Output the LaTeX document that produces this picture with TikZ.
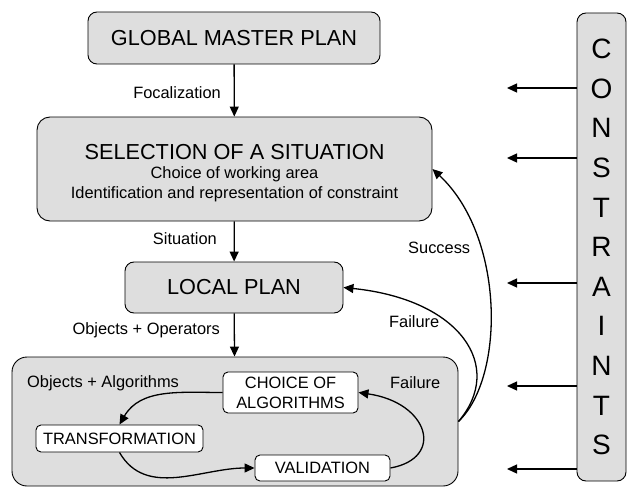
\documentclass[tikz,border=0pt]{standalone}
\usepackage{fontspec}
\setmainfont{Liberation Sans}
\usepackage{tikz}
\usetikzlibrary{arrows.meta}
\definecolor{boxgray}{RGB}{222,222,222}

\tikzset{
  bigbox/.style={draw, fill=boxgray, rounded corners=9pt, line width=0.9pt, inner sep=0pt, align=center, font=\fontsize{21.7}{26}\selectfont},
  smallbox/.style={draw, fill=white, rounded corners=5pt, line width=0.9pt, inner sep=0pt, align=center, font=\fontsize{16.4}{20}\selectfont},
  lbl/.style={inner sep=0pt, font=\fontsize{16.4}{20}\selectfont},
  arr/.style={-{Triangle[length=10pt,width=9pt]}, line width=1.3pt},
}

\begin{document}
\begin{tikzpicture}[x=1pt, y=-1pt]
    \useasboundingbox (0,0) rectangle (627,487);
    % main chain
    \node[bigbox, minimum width=292, minimum height=52] (global) at (234,38) {GLOBAL MASTER PLAN};
    \node[bigbox, rounded corners=13pt, minimum width=395, minimum height=104,
          font=\fontsize{21.7}{19.5}\selectfont] (select) at (234.5,169)
        {\rule{0pt}{23pt}SELECTION OF A SITUATION\\
         \fontsize{16.4}{19.5}\selectfont Choice of working area\\
         \fontsize{16.4}{19.5}\selectfont Identification and representation of constraint};
    \node[bigbox, minimum width=218, minimum height=51] (local) at (234,287.5) {LOCAL PLAN};
    \draw[arr] (global) -- (select);
    \draw[arr] (select) -- (local);
    \node[lbl, anchor=east] (focal) at (221,93) {Focalization};
    \node[lbl, anchor=east] (situ) at (217,239) {Situation};
    \node[lbl, anchor=east] (objop) at (220,330) {Objects + Operators};
    % algorithms block
    \node[bigbox, rounded corners=15pt, minimum width=446, minimum height=129] (algo) at (235,421.5) {};
    \draw[arr] (local) -- (algo);
    \node[lbl, anchor=west] (objalg) at (27,383) {Objects + Algorithms};
    \node[lbl, anchor=west] (fail1) at (390,383) {Failure};
    \node[smallbox, minimum width=135, minimum height=41] (choice) at (290.5,392.5) {CHOICE OF\\ALGORITHMS};
    \node[smallbox, minimum width=167, minimum height=27] (trans) at (119.5,438.5) {TRANSFORMATION};
    \node[smallbox, minimum width=135, minimum height=26] (valid) at (322.5,468) {VALIDATION};
    \draw[arr] (choice.west) to[out=180, in=60] (trans.north);
    \draw[arr] (trans.south) to[out=-60, in=180] (valid.west);
    \draw[arr] (valid.east) .. controls +(55,-10) and +(70,10) .. (choice.east);
    % feedback
    \draw[arr] (algo.east) .. controls +(47,-45) and +(72,67) .. (select.east);
    \draw[arr] (algo.east) .. controls +(47,-55) and +(117,12) .. (local.east);
    \node[lbl, anchor=west] (succ) at (408,248) {Success};
    \node[lbl, anchor=west] (fail2) at (389,322) {Failure};
    % constraints
    \node[bigbox, rounded corners=9pt, minimum width=49, minimum height=468,
          font=\fontsize{28}{39.6}\selectfont] (cons) at (601.5,247)
        {C\\O\\N\\S\\T\\R\\A\\I\\N\\T\\S};
    \coordinate (k1) at (507,88);
    \coordinate (k2) at (507,158);
    \coordinate (k3) at (507,283);
    \coordinate (k4) at (507,386);
    \coordinate (k5) at (507,469);
    \foreach \k in {k1,k2,k3,k4,k5}
        \draw[arr] (cons.west |- \k) -- (\k);
\end{tikzpicture}
\end{document}
